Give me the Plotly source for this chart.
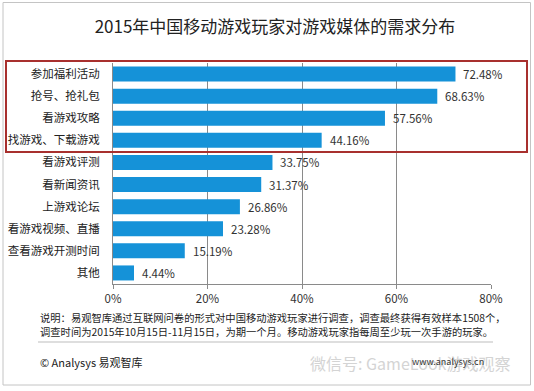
import plotly.graph_objects as go

categories = ["参加福利活动", "抢号、抢礼包", "看游戏攻略", "找游戏、下载游戏", "看游戏评测",
              "看新闻资讯", "上游戏论坛", "看游戏视频、直播", "查看游戏开测时间", "其他"]
values = [72.48, 68.63, 57.56, 44.16, 33.75, 31.37, 26.86, 23.28, 15.19, 4.44]
value_labels = ["72.48%", "68.63%", "57.56%", "44.16%", "33.75%", "31.37%", "26.86%", "23.28%", "15.19%", "4.44%"]
tick_vals = [0, 20, 40, 60, 80]
tick_text = ["0%", "20%", "40%", "60%", "80%"]

title = "2015年中国移动游戏玩家对游戏媒体的需求分布"
note1 = "说明：易观智库通过互联网问卷的形式对中国移动游戏玩家进行调查，调查最终获得有效样本1508个，"
note2 = "调查时间为2015年10月15日-11月15日，为期一个月。移动游戏玩家指每周至少玩一次手游的玩家。"
source = "© Analysys 易观智库"
watermark = "微信号: GameLook游戏观察"
site = "www.analysys.cn"

FONT = "Microsoft YaHei, Noto Sans CJK SC, sans-serif"
W, H = 534, 391
L, R, T, B = 113, 43, 63, 107
PW, PH = W - L - R, H - T - B


def px(x):
    return (x - L) / PW


def py(y):
    return (H - B - y) / PH


fig = go.Figure(go.Bar(
    x=values, y=categories, orientation="h",
    marker=dict(color="#1592D8", line=dict(width=0)),
    width=0.68, hoverinfo="skip",
))

annotations = []
for c, v, t in zip(categories, values, value_labels):
    annotations.append(dict(x=v, y=c, xref="x", yref="y", text=t, showarrow=False,
                            xanchor="left", yanchor="middle", xshift=6,
                            font=dict(size=11.5, color="#333", family=FONT)))

annotations += [
    dict(x=px(38), y=py(317), xref="paper", yref="paper", text=note1, showarrow=False,
         xanchor="left", yanchor="middle", font=dict(size=10.3, color="#222", family=FONT)),
    dict(x=px(38), y=py(331), xref="paper", yref="paper", text=note2, showarrow=False,
         xanchor="left", yanchor="middle", font=dict(size=10.3, color="#222", family=FONT)),
    dict(x=px(38), y=py(362), xref="paper", yref="paper", text=source, showarrow=False,
         xanchor="left", yanchor="middle", font=dict(size=11, color="#222", family=FONT)),
    dict(x=px(308), y=py(363), xref="paper", yref="paper", text=watermark, showarrow=False,
         xanchor="left", yanchor="middle", font=dict(size=16, color="#d4d4d4", family=FONT)),
    dict(x=px(410), y=py(361), xref="paper", yref="paper", text=site, showarrow=False,
         xanchor="left", yanchor="middle", font=dict(size=9, color="#333", family=FONT)),
]

shapes = [
    # outer frame
    dict(type="rect", xref="paper", yref="paper", x0=px(3), x1=px(530.5), y0=py(385), y1=py(2.5),
         line=dict(color="#c4c4c4", width=1)),
    # highlight box
    dict(type="rect", xref="paper", yref="paper", x0=px(6), x1=px(527), y0=py(152), y1=py(61),
         line=dict(color="#A8302E", width=2)),
    # separator
    dict(type="line", xref="paper", yref="paper", x0=px(38), x1=px(493), y0=py(342), y1=py(342),
         line=dict(color="#bdbdbd", width=1)),
]

fig.update_layout(
    width=W, height=H,
    margin=dict(l=L, r=R, t=T, b=B, autoexpand=False),
    paper_bgcolor="white", plot_bgcolor="white",
    showlegend=False,
    bargap=0.32,
    title=dict(text=title, x=275 / W, xanchor="center", y=1 - 27 / H, yanchor="middle",
               font=dict(size=17, color="#222", family=FONT)),
    xaxis=dict(range=[0, 80], tickvals=tick_vals, ticktext=tick_text,
               showgrid=True, gridcolor="#8a8a8a", gridwidth=1,
               showline=True, linecolor="#8a8a8a", linewidth=1,
               ticks="outside", ticklen=4, tickcolor="#8a8a8a",
               tickfont=dict(size=11.5, color="#333", family=FONT),
               zeroline=False, fixedrange=True, automargin=False),
    yaxis=dict(categoryorder="array", categoryarray=categories, autorange="reversed",
               showline=True, linecolor="#8a8a8a", linewidth=1,
               ticks="", ticklabelstandoff=10,
               tickfont=dict(size=11.5, color="#222", family=FONT),
               showgrid=False, zeroline=False, fixedrange=True, automargin=False),
    annotations=annotations,
    shapes=shapes,
)

fig.write_html("out.html", config={"displayModeBar": False},
               post_script="document.body.style.margin='0';")
